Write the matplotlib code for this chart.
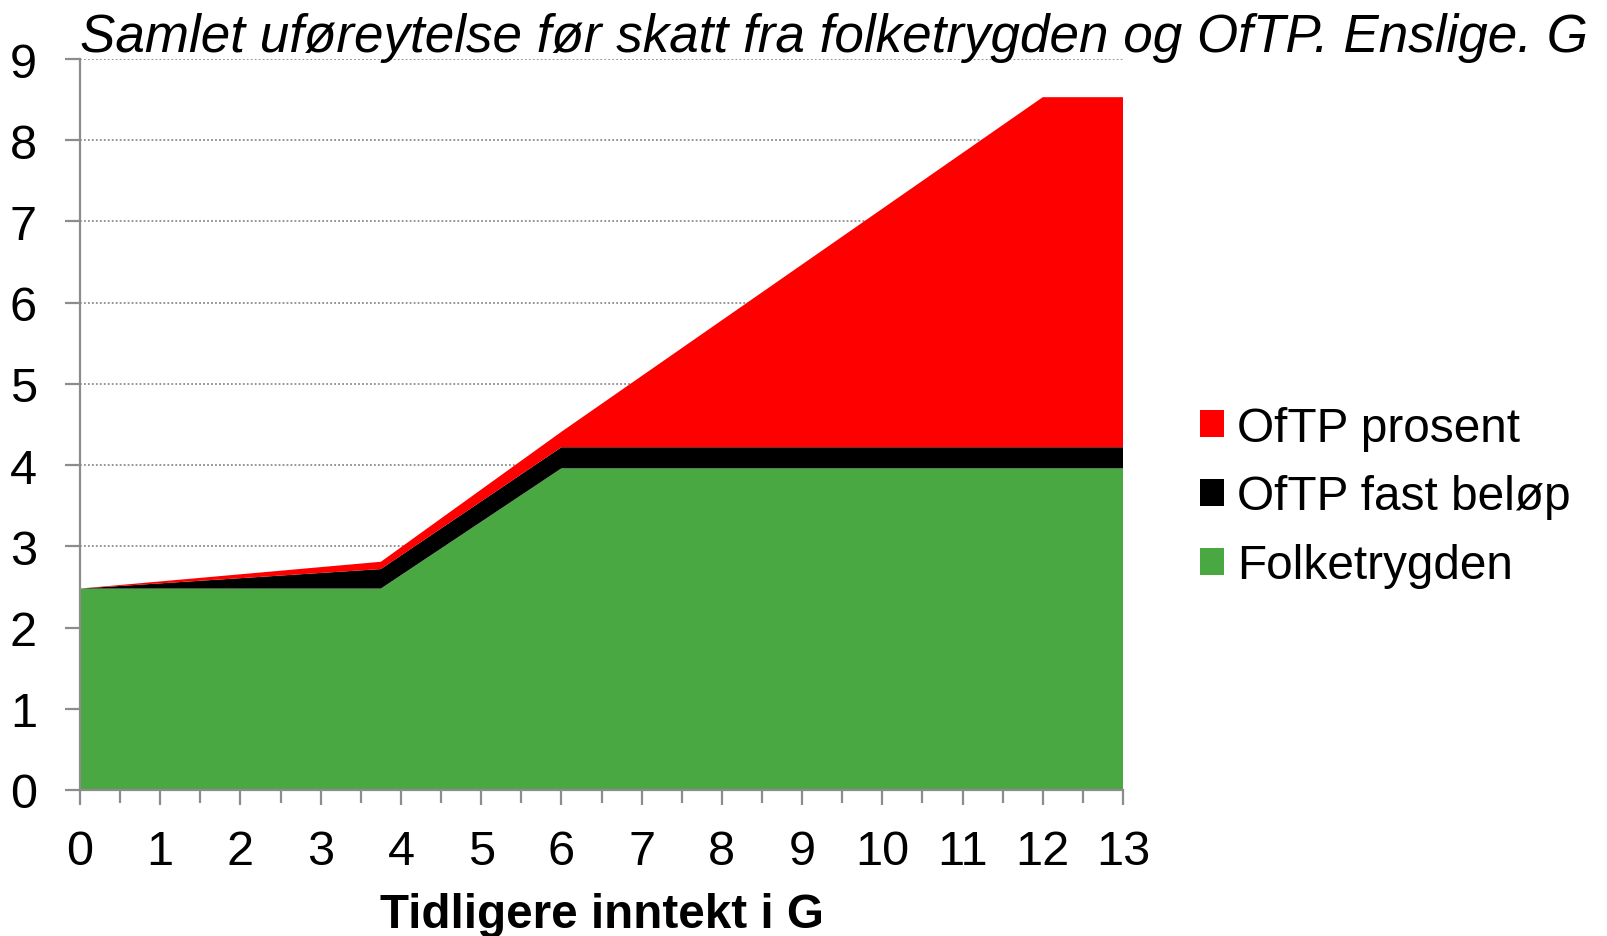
import matplotlib
matplotlib.use("Agg")
import matplotlib.pyplot as plt
from matplotlib.ticker import MultipleLocator
from matplotlib.patches import Patch

plt.rcParams['font.family'] = ['Liberation Sans', 'DejaVu Sans']

# data (G)
inntekt = [0, 3.75, 6, 12, 13]
folketrygden = [2.48, 2.48, 3.96, 3.96, 3.96]
oftp_fast = [0, 0.24, 0.26, 0.26, 0.26]
oftp_prosent = [0, 0.09, 0.19, 4.31, 4.31]

series_names = ['Folketrygden', 'OfTP fast beløp', 'OfTP prosent']
series_colors = ['#4AA842', '#000000', '#FF0000']

fig = plt.figure(figsize=(16.07, 9.37), dpi=100)
ax = fig.add_axes([80 / 1607, 1 - 791 / 937, (1123 - 80) / 1607, (791 - 60) / 937])

ax.stackplot(inntekt, folketrygden, oftp_fast, oftp_prosent,
             colors=series_colors, linewidth=0)

ax.set_xlim(0, 13)
ax.set_ylim(0, 9)
ax.xaxis.set_major_locator(MultipleLocator(1))
ax.xaxis.set_minor_locator(MultipleLocator(0.5))
ax.yaxis.set_major_locator(MultipleLocator(1))

# grid
ax.grid(axis='y', linestyle=(0, (1, 1.2)), color='#8c8c8c', linewidth=1.3)
ax.set_axisbelow(True)

for side in ['top', 'right']:
    ax.spines[side].set_visible(False)
for side in ['left', 'bottom']:
    ax.spines[side].set_color('#8c8c8c')
    ax.spines[side].set_linewidth(1.6)

ax.tick_params(axis='both', which='major', direction='out', length=11,
               width=1.6, color='#8c8c8c', labelsize=35)
ax.tick_params(axis='x', which='minor', direction='out', length=9,
               width=1.6, color='#8c8c8c')
ax.tick_params(axis='x', which='major', pad=17)
ax.tick_params(axis='y', which='major', pad=20)

ax.set_xlabel('Tidligere inntekt i G', fontsize=34.3, fontweight='bold', labelpad=13)

fig.text(80 / 1607, 1 - 52 / 937,
         'Samlet uføreytelse før skatt fra folketrygden og OfTP. Enslige. G',
         fontsize=38.2, fontstyle='italic', ha='left', va='baseline')

# legend, top entry first
handles = [Patch(facecolor=c) for c in series_colors][::-1]
fig.legend(handles, series_names[::-1], loc='center left',
           bbox_to_anchor=(1157 / 1607, 1 - 498 / 937), frameon=False,
           fontsize=34.4, handlelength=0.5, handleheight=0.5,
           handletextpad=0.27, labelspacing=0.5)

fig.savefig('out.png', dpi=100)
